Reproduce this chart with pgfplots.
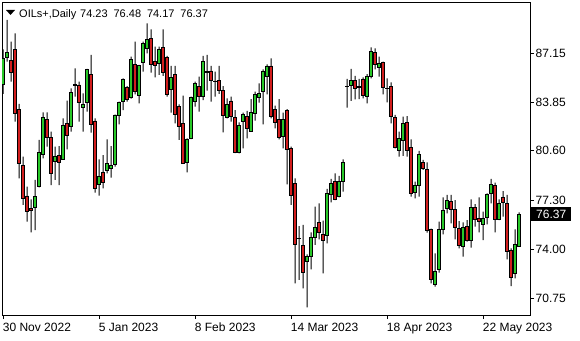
\documentclass[border=0pt]{standalone}
\usepackage{fontspec}
\setmainfont{Liberation Sans}
\usepackage{pgfplots}
\pgfplotsset{compat=1.18}
\usepackage{pgfplotstable}
\definecolor{bull}{RGB}{40,200,40}
\definecolor{bear}{RGB}{210,30,30}

\pgfplotstableread{
i o h l c
0 85.05 87.40 84.41 86.79
1 86.86 89.36 86.57 87.17
2 86.68 87.91 85.23 85.86
3 87.40 88.47 82.55 83.11
4 83.40 83.74 78.76 79.76
5 79.65 80.21 76.98 77.42
6 77.58 78.20 75.86 76.57
7 76.75 77.35 75.15 76.60
8 76.82 78.65 75.30 77.53
9 78.20 81.33 78.15 80.50
10 80.39 83.18 80.10 82.84
11 82.73 83.18 80.88 81.48
12 81.50 81.88 78.31 79.10
13 79.88 80.88 78.65 80.26
14 80.32 80.92 78.31 79.83
15 80.03 82.78 79.99 82.29
16 82.44 83.96 80.70 81.66
17 82.22 84.78 81.88 84.52
18 84.96 86.12 84.23 85.05
19 85.01 85.23 82.55 83.85
20 83.51 84.45 81.88 83.71
21 83.85 86.08 83.22 86.06
22 85.74 87.02 81.82 82.38
23 82.60 82.78 77.80 78.09
24 78.36 80.03 77.60 78.92
25 79.16 80.32 78.09 78.49
26 79.30 81.37 79.10 79.76
27 79.43 80.92 78.81 79.65
28 79.72 83.02 79.54 83.00
29 82.95 83.89 82.38 83.85
30 83.89 85.45 83.33 85.39
31 84.85 84.94 83.89 84.05
32 84.16 86.90 84.09 86.73
33 86.39 87.91 84.38 84.56
34 84.34 86.35 83.78 86.30
35 86.52 87.91 85.90 87.80
36 87.46 89.14 87.13 88.06
37 88.13 88.73 85.83 86.39
38 86.57 87.57 85.52 86.33
39 86.46 87.57 85.68 87.40
40 87.53 88.73 85.61 85.83
41 86.86 86.95 84.23 84.41
42 84.72 86.28 83.16 85.50
43 85.74 86.28 82.44 83.04
44 83.60 83.71 81.33 82.22
45 82.44 84.29 79.72 79.76
46 79.83 81.44 79.16 81.39
47 81.44 84.23 81.39 84.16
48 83.89 85.23 83.56 85.12
49 84.94 85.57 83.22 84.23
50 84.23 86.95 84.00 86.61
51 85.90 87.02 84.63 85.88
52 85.95 86.28 83.89 85.30
53 85.28 85.90 84.23 85.27
54 85.34 86.28 84.41 84.67
55 84.67 84.94 81.84 82.95
56 82.84 84.11 82.78 83.71
57 83.94 84.23 82.55 82.93
58 82.84 83.33 80.45 80.50
59 80.50 82.51 80.43 82.29
60 82.60 83.16 80.77 83.04
61 82.93 83.27 81.44 82.11
62 81.93 84.07 81.88 83.16
63 83.11 84.56 82.62 84.38
64 84.18 85.12 83.83 84.45
65 84.61 86.06 82.38 85.95
66 85.61 86.39 84.38 86.28
67 86.28 86.79 82.78 82.89
68 83.40 83.62 82.11 82.51
69 82.73 84.07 81.37 81.50
70 81.55 83.16 80.77 82.73
71 83.33 83.40 78.36 80.72
72 80.77 80.88 76.98 77.65
73 78.43 78.76 71.73 74.34
74 74.74 75.57 71.96 74.72
75 74.25 75.64 71.40 72.47
76 73.18 73.67 70.13 73.52
77 73.52 75.15 72.67 74.81
78 74.81 76.86 74.30 75.48
79 75.81 77.08 74.68 75.15
80 75.01 75.93 72.40 74.59
81 74.97 78.05 74.41 77.76
82 77.71 78.72 77.15 78.43
83 78.54 79.10 77.31 77.38
84 77.53 78.92 77.49 78.54
85 78.54 80.03 77.87 79.83
86 84.91 85.41 83.49 84.90
87 85.01 86.08 83.94 85.34
88 85.34 85.61 84.05 84.78
89 84.90 85.41 84.07 84.88
90 85.41 85.52 84.11 84.29
91 84.27 85.74 83.78 85.57
92 85.57 87.53 85.45 87.28
93 87.19 87.46 86.06 86.39
94 86.17 86.90 85.57 86.46
95 86.52 86.57 84.38 84.85
96 84.79 85.45 83.85 84.78
97 84.94 85.19 82.44 82.89
98 82.84 83.00 80.77 80.84
99 80.61 81.88 80.21 81.44
100 81.33 82.89 80.26 82.44
101 82.51 82.93 80.21 80.66
102 80.84 81.37 77.53 77.76
103 77.82 78.54 77.42 78.27
104 78.27 80.59 77.53 80.37
105 79.83 79.99 79.32 79.43
106 79.36 79.83 75.12 75.30
107 75.35 75.40 71.73 72.00
108 71.67 73.74 71.51 72.51
109 72.67 75.86 72.45 75.35
110 75.35 77.49 75.01 76.64
111 76.75 77.65 76.42 77.31
112 77.24 77.65 75.75 76.69
113 76.69 77.31 74.68 75.46
114 75.41 75.90 74.07 74.25
115 74.18 75.81 73.52 75.46
116 75.53 75.97 74.52 74.59
117 74.63 77.35 74.12 76.82
118 76.82 77.04 75.53 76.01
119 76.08 77.49 75.15 75.86
120 75.68 76.53 74.63 76.08
121 76.15 77.76 75.68 77.71
122 77.76 78.72 77.09 78.38
123 78.31 78.47 75.15 76.04
124 76.04 77.35 75.97 77.09
125 77.49 77.91 76.19 77.15
126 77.09 77.65 73.34 73.90
127 73.96 74.07 71.55 72.11
128 72.40 75.35 72.07 74.34
129 74.23 76.48 74.17 76.37
}\data

\newcommand{\lblfont}{\fontsize{12}{14}\selectfont}
\newcommand{\hdrfont}{\fontsize{11}{13}\selectfont}
\begin{document}
\begin{tikzpicture}
\pgfplotsset{common/.style={scale only axis, width=528pt, height=313pt,
  xmin=-0.3, xmax=131.7, ymin=69.613, ymax=90.563,
  at={(0pt,0pt)}, anchor=south west}}
\begin{axis}[common, ybar stacked, bar width=1pt,
  axis line style={black, line width=0.8pt},
  tick align=outside, major tick length=4pt,
  tick style={black, line width=0.8pt},
  xtick pos=bottom, ytick pos=right, yticklabel pos=right,
  xtick={0,24,48,72,96,120},
  xticklabels={30 Nov 2022, 5 Jan 2023, 8 Feb 2023, 14 Mar 2023, 18 Apr 2023, 22 May 2023},
  ytick={70.75,74,77.3,80.6,83.85,87.15},
  yticklabels={70.75,74.00,77.30,80.60,83.85,87.15},
  xticklabel style={font=\lblfont, text=black, anchor=north west, inner sep=0pt, xshift=-0.5pt, yshift=-4pt},
  yticklabel style={font=\lblfont, text=black, anchor=west, inner sep=0pt, xshift=1.5pt},
  ]
\addplot[draw=none, fill=none] table[x=i, y=l] {\data};
\addplot[fill=black, draw=none] table[x=i, y expr=\thisrow{h}-\thisrow{l}] {\data};
\end{axis}
\begin{axis}[common, hide axis, ybar stacked, bar width=3pt, clip mode=individual]
\addplot[draw=none, fill=none] table[x=i, y expr={min(\thisrow{o},\thisrow{c})}] {\data};
\addplot[fill=bull, draw=black, line width=0.8pt] table[x=i, y expr={max(\thisrow{c}-\thisrow{o},0)}] {\data};
\addplot[fill=bear, draw=black, line width=0.8pt] table[x=i, y expr={max(\thisrow{o}-\thisrow{c},0)}] {\data};
\fill[black] (rel axis cs:0,1) ++(4pt,-8pt) -- ++(9pt,0pt) -- ++(-4.5pt,-5pt) -- cycle;
\node[anchor=base west, inner sep=0pt, font=\hdrfont] at ([xshift=17pt,yshift=-15.5pt]rel axis cs:0,1) {OILs+,Daily};
\node[anchor=base west, inner sep=0pt, font=\hdrfont] at ([xshift=78pt,yshift=-15.5pt]rel axis cs:0,1) {74.23};
\node[anchor=base west, inner sep=0pt, font=\hdrfont] at ([xshift=111.4pt,yshift=-15.5pt]rel axis cs:0,1) {76.48};
\node[anchor=base west, inner sep=0pt, font=\hdrfont] at ([xshift=144.8pt,yshift=-15.5pt]rel axis cs:0,1) {74.17};
\node[anchor=base west, inner sep=0pt, font=\hdrfont] at ([xshift=178.2pt,yshift=-15.5pt]rel axis cs:0,1) {76.37};
\node[anchor=west, fill=black, text=white, inner xsep=5pt, inner ysep=2.5pt, font=\lblfont] at ([xshift=1pt]axis cs:131.7,76.37) {76.37};
\end{axis}
\pgfresetboundingbox
\path[use as bounding box] (-2pt,-25pt) rectangle (578pt,315pt);
\end{tikzpicture}
\end{document}
